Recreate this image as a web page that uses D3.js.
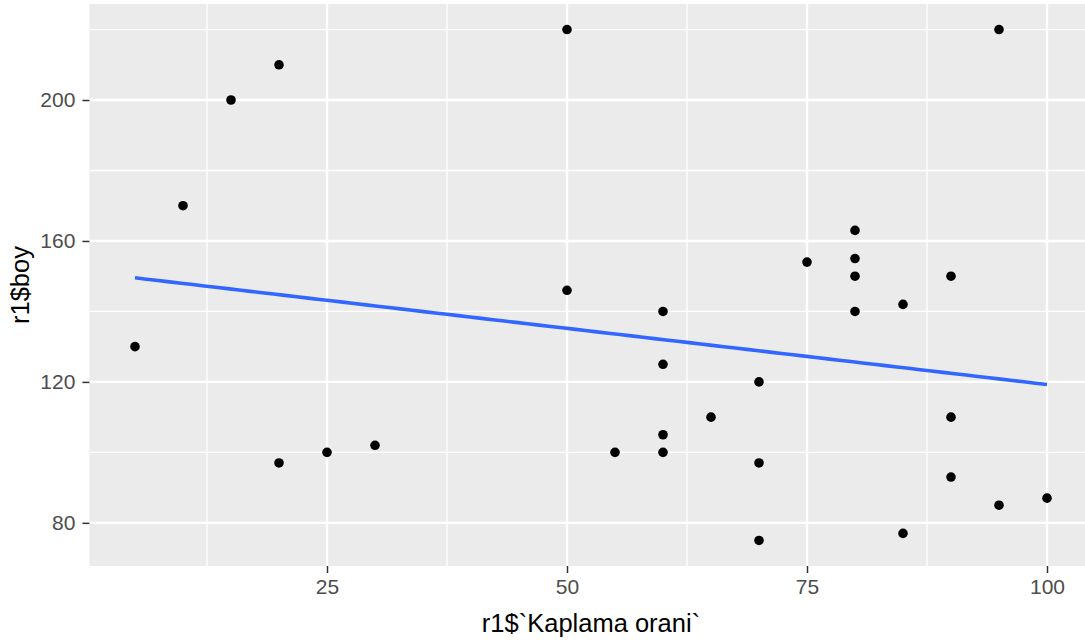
<!DOCTYPE html>
<html>
<head>
<meta charset="utf-8">
<script src="https://cdn.jsdelivr.net/npm/d3@7"></script>
<style>
  body { margin: 0; background: #fff; }
  svg { display: block; font-family: "Liberation Sans", Arial, sans-serif; }
</style>
</head>
<body>
<script>
// r1$`Kaplama orani` vs r1$boy
var kaplama = [5, 10, 15, 20, 20, 25, 30, 50, 50, 55, 60, 60, 60, 60, 65, 70, 70, 70,
               75, 80, 80, 80, 80, 85, 85, 90, 90, 90, 95, 95, 100];
var boy     = [130, 170, 200, 210, 97, 100, 102, 220, 146, 100, 140, 125, 105, 100, 110, 120, 97, 75,
               154, 163, 155, 150, 140, 142, 77, 150, 110, 93, 220, 85, 87];

var xTicks = [25, 50, 75, 100];
var yTicks = [80, 120, 160, 200];
var xTitle = "r1$`Kaplama orani`";
var yTitle = "r1$boy";

var W = 1085, H = 643;
var panel = {left: 89.4, right: 1092.6, top: 4, bottom: 566};

var data = kaplama.map(function(d, i) { return {x: d, y: boy[i]}; });

// ggplot style 5% expansion
function expand(ext) {
    var pad = (ext[1] - ext[0]) * 0.05;
    return [ext[0] - pad, ext[1] + pad];
}

var x = d3.scaleLinear()
        .domain(expand(d3.extent(kaplama)))
        .range([panel.left, panel.right]);

var y = d3.scaleLinear()
        .domain(expand(d3.extent(boy)))
        .range([panel.bottom, panel.top]);

// linear fit (geom_smooth method = "lm")
var mx = d3.mean(kaplama), my = d3.mean(boy);
var sxy = d3.sum(data, function(d) { return (d.x - mx) * (d.y - my); });
var sxx = d3.sum(data, function(d) { return (d.x - mx) * (d.x - mx); });
var slope = sxy / sxx, intercept = my - slope * mx;
var xr = d3.extent(kaplama);
var fit = d3.range(80).map(function(i) {
    var xv = xr[0] + (xr[1] - xr[0]) * i / 79;
    return {x: xv, y: intercept + slope * xv};
});

function minors(ticks, dom) {
    var step = ticks[1] - ticks[0];
    var out = [];
    for (var v = ticks[0] - step / 2; v <= dom[1]; v += step) {
        if (v >= dom[0]) out.push(v);
    }
    for (var v2 = ticks[0] - step / 2; v2 >= dom[0]; v2 -= step) {
        if (out.indexOf(v2) < 0) out.push(v2);
    }
    return out;
}

var svg = d3.select("body").append("svg")
        .attr("width", W)
        .attr("height", H);

svg.append("rect")
        .attr("x", panel.left)
        .attr("y", panel.top)
        .attr("width", panel.right - panel.left)
        .attr("height", panel.bottom - panel.top)
        .attr("fill", "#EBEBEB");

// minor grid
svg.append("g").selectAll("line")
        .data(minors(xTicks, x.domain()))
        .enter().append("line")
        .attr("x1", function(d) { return x(d); })
        .attr("x2", function(d) { return x(d); })
        .attr("y1", panel.top).attr("y2", panel.bottom)
        .attr("stroke", "#fff").attr("stroke-width", 1.3);

svg.append("g").selectAll("line")
        .data(minors(yTicks, y.domain()))
        .enter().append("line")
        .attr("y1", function(d) { return y(d); })
        .attr("y2", function(d) { return y(d); })
        .attr("x1", panel.left).attr("x2", panel.right)
        .attr("stroke", "#fff").attr("stroke-width", 1.3);

// major grid
svg.append("g").selectAll("line")
        .data(xTicks)
        .enter().append("line")
        .attr("x1", function(d) { return x(d); })
        .attr("x2", function(d) { return x(d); })
        .attr("y1", panel.top).attr("y2", panel.bottom)
        .attr("stroke", "#fff").attr("stroke-width", 2.4);

svg.append("g").selectAll("line")
        .data(yTicks)
        .enter().append("line")
        .attr("y1", function(d) { return y(d); })
        .attr("y2", function(d) { return y(d); })
        .attr("x1", panel.left).attr("x2", panel.right)
        .attr("stroke", "#fff").attr("stroke-width", 2.4);

// points
svg.append("g").selectAll("circle")
        .data(data)
        .enter().append("circle")
        .attr("cx", function(d) { return x(d.x); })
        .attr("cy", function(d) { return y(d.y); })
        .attr("r", 4.8)
        .attr("fill", "#000");

// fit line
svg.append("path")
        .datum(fit)
        .attr("fill", "none")
        .attr("stroke", "#3366FF")
        .attr("stroke-width", 3.6)
        .attr("d", d3.line()
            .x(function(d) { return x(d.x); })
            .y(function(d) { return y(d.y); }));

// axes
var xAxis = d3.axisBottom(x).tickValues(xTicks).tickSize(7).tickPadding(6);
var yAxis = d3.axisLeft(y).tickValues(yTicks).tickSize(7).tickPadding(7);

var gx = svg.append("g")
        .attr("transform", "translate(0," + panel.bottom + ")")
        .call(xAxis);
var gy = svg.append("g")
        .attr("transform", "translate(" + panel.left + ",0)")
        .call(yAxis);

[gx, gy].forEach(function(g) {
    g.select(".domain").remove();
    g.selectAll(".tick line").attr("stroke", "#333333").attr("stroke-width", 1.5);
    g.selectAll(".tick text")
        .attr("fill", "#4D4D4D")
        .style("font-size", "21px");
});

svg.append("text")
        .attr("x", (panel.left + 1092.6) / 2)
        .attr("y", 632)
        .attr("text-anchor", "middle")
        .style("font-size", "25.5px")
        .attr("fill", "#000")
        .text(xTitle);

svg.append("text")
        .attr("transform", "translate(29," + (panel.top + panel.bottom) / 2 + ") rotate(-90)")
        .attr("text-anchor", "middle")
        .style("font-size", "25.5px")
        .attr("fill", "#000")
        .text(yTitle);
</script>
</body>
</html>
